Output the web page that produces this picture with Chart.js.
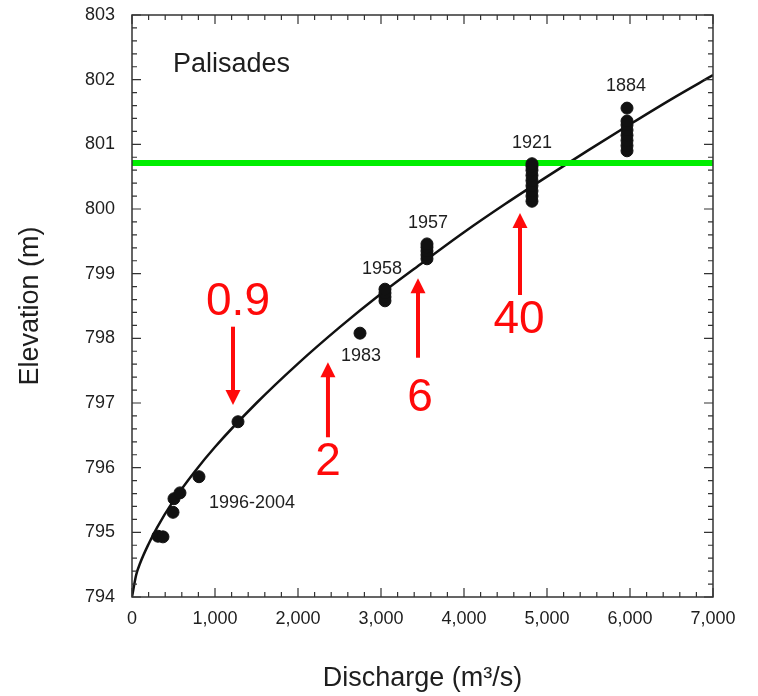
<!DOCTYPE html>
<html>
<head>
<meta charset="utf-8">
<title>Palisades rating curve</title>
<script src="https://cdn.jsdelivr.net/npm/chart.js@4.4.1/dist/chart.umd.min.js"></script>
<style>
  html, body { margin: 0; padding: 0; background: #fff; }
  #wrap { width: 758px; height: 696px; }
</style>
</head>
<body>
<div id="wrap"><canvas id="c" width="758" height="696"></canvas></div>
<script>
// Stage–discharge rating curve (discharge m³/s, elevation m)
const curveDischarge = [0, 50, 100, 200, 300, 500, 750, 1000, 1500, 2000, 2500, 3000, 3500, 4000, 4500, 5000, 5500, 6000, 6500, 7000];
const curveElevation = [794.0, 794.34, 794.53, 794.82, 795.07, 795.49, 795.93, 796.32, 797.00, 797.61, 798.17, 798.69, 799.17, 799.64, 800.08, 800.50, 800.91, 801.31, 801.70, 802.07];

// Observed high-water marks, grouped by flood
const floodLabels = ['1996-2004', '1983', '1958', '1957', '1921', '1884'];
const obsDischarge1996 = [313, 373, 494, 506, 578, 807, 1277];
const obsElevation1996 = [794.94, 794.93, 795.31, 795.52, 795.61, 795.86, 796.71];
const obsDischarge1983 = [2747];
const obsElevation1983 = [798.08];
const obsDischarge1958 = [3048, 3048, 3048, 3048];
const obsElevation1958 = [798.58, 798.64, 798.70, 798.76];
const obsDischarge1957 = [3554, 3554, 3554, 3554, 3554];
const obsElevation1957 = [799.23, 799.29, 799.35, 799.41, 799.46];
const obsDischarge1921 = [4819, 4819, 4819, 4819, 4819, 4819, 4819, 4819, 4819];
const obsElevation1921 = [800.12, 800.20, 800.28, 800.36, 800.44, 800.52, 800.60, 800.66, 800.70];
const obsDischarge1884 = [5964, 5964, 5964, 5964, 5964, 5964, 5964, 5964];
const obsElevation1884 = [800.90, 800.98, 801.06, 801.14, 801.22, 801.30, 801.36, 801.56];

// Reference level (green line)
const levelDischarge = [0, 7000];
const levelElevation = [800.71, 800.71];

// Red callouts: label and the discharge each arrow marks
const calloutLabels = ['0.9', '2', '6', '40'];
const calloutDischarge = [1217, 2361, 3446, 4675];

// Axis ticks
const xTickValues = [0, 1000, 2000, 3000, 4000, 5000, 6000, 7000];
const yTickValues = [794, 795, 796, 797, 798, 799, 800, 801, 802, 803];

const toPoints = (xs, ys) => xs.map((v, i) => ({ x: v, y: ys[i] }));

const observed = [].concat(
  toPoints(obsDischarge1996, obsElevation1996),
  toPoints(obsDischarge1983, obsElevation1983),
  toPoints(obsDischarge1958, obsElevation1958),
  toPoints(obsDischarge1957, obsElevation1957),
  toPoints(obsDischarge1921, obsElevation1921),
  toPoints(obsDischarge1884, obsElevation1884)
);

const FONT = "'Liberation Sans', Helvetica, Arial, sans-serif";
const INK = '#1e1e1e';

// Where each flood's year label sits (data coordinates)
const floodLabelAt = {
  '1996-2004': [1446, 795.45],
  '1983': [2759, 797.73],
  '1958': [3012, 799.07],
  '1957': [3566, 799.78],
  '1921': [4819, 801.02],
  '1884': [5952, 801.90]
};
// Callout geometry: arrow base, arrow tip and number centre elevations
const calloutGeom = {
  '0.9': { from: 798.18, to: 796.97, textX: 1277, textY: 798.55 },
  '2':   { from: 796.47, to: 797.63, textX: 2361, textY: 796.09 },
  '6':   { from: 797.70, to: 798.93, textX: 3470, textY: 797.08 },
  '40':  { from: 798.67, to: 799.94, textX: 4663, textY: 798.28 }
};

const framePlugin = {
  id: 'frame',
  afterDraw(chart) {
    const { ctx, chartArea: a, scales: { x, y } } = chart;
    ctx.save();
    ctx.strokeStyle = '#333';
    ctx.lineWidth = 1.5;
    ctx.strokeRect(a.left, a.top, a.right - a.left, a.bottom - a.top);
    ctx.lineWidth = 1.2;
    ctx.beginPath();
    for (let v = 0; v <= 7000; v += 200) {
      const px = x.getPixelForValue(v);
      const len = xTickValues.includes(v) ? 9 : 5;
      ctx.moveTo(px, a.bottom); ctx.lineTo(px, a.bottom - len);
      ctx.moveTo(px, a.top); ctx.lineTo(px, a.top + len);
    }
    for (let k = 0; k <= 45; k++) {
      const v = 794 + k * 0.2;
      const py = y.getPixelForValue(v);
      const len = k % 5 === 0 ? 9 : 5;
      ctx.moveTo(a.left, py); ctx.lineTo(a.left + len, py);
      ctx.moveTo(a.right, py); ctx.lineTo(a.right - len, py);
    }
    ctx.stroke();
    ctx.restore();
  }
};

const labelPlugin = {
  id: 'labels',
  afterDatasetsDraw(chart) {
    const { ctx, scales: { x, y } } = chart;
    ctx.save();
    // site name
    ctx.fillStyle = INK;
    ctx.font = `27px ${FONT}`;
    ctx.textAlign = 'left';
    ctx.textBaseline = 'middle';
    ctx.fillText('Palisades', x.getPixelForValue(494), y.getPixelForValue(802.23));

    // flood year labels
    ctx.font = `18px ${FONT}`;
    ctx.textAlign = 'center';
    floodLabels.forEach(lbl => {
      const [q, e] = floodLabelAt[lbl];
      ctx.fillText(lbl, x.getPixelForValue(q), y.getPixelForValue(e));
    });

    // red arrows with numbers
    ctx.fillStyle = '#ff0a0a';
    ctx.strokeStyle = '#ff0a0a';
    ctx.lineWidth = 4;
    calloutLabels.forEach((lbl, i) => {
      const g = calloutGeom[lbl];
      const px = x.getPixelForValue(calloutDischarge[i]);
      const y0 = y.getPixelForValue(g.from);
      const y1 = y.getPixelForValue(g.to);
      const dir = y1 > y0 ? 1 : -1;
      const headLen = 15, headHalf = 7.5;
      ctx.beginPath();
      ctx.moveTo(px, y0);
      ctx.lineTo(px, y1 - dir * headLen + dir * 1);
      ctx.stroke();
      ctx.beginPath();
      ctx.moveTo(px, y1);
      ctx.lineTo(px - headHalf, y1 - dir * headLen);
      ctx.lineTo(px + headHalf, y1 - dir * headLen);
      ctx.closePath();
      ctx.fill();
      ctx.font = `46px ${FONT}`;
      ctx.textAlign = 'center';
      ctx.textBaseline = 'middle';
      ctx.fillText(lbl, x.getPixelForValue(g.textX), y.getPixelForValue(g.textY));
    });
    ctx.restore();
  }
};

new Chart(document.getElementById('c'), {
  data: {
    datasets: [
      {
        type: 'scatter',
        label: 'High-water marks',
        data: observed,
        backgroundColor: '#111',
        borderColor: '#111',
        pointRadius: 6,
        pointHoverRadius: 6,
        order: 0
      },
      {
        type: 'line',
        label: 'Reference level',
        data: toPoints(levelDischarge, levelElevation),
        borderColor: '#00ee00',
        borderWidth: 6,
        pointRadius: 0,
        order: 1
      },
      {
        type: 'line',
        label: 'Rating curve',
        data: toPoints(curveDischarge, curveElevation),
        borderColor: '#111',
        borderWidth: 2.5,
        pointRadius: 0,
        cubicInterpolationMode: 'monotone',
        order: 2
      }
    ]
  },
  options: {
    responsive: false,
    animation: false,
    events: [],
    layout: { padding: { top: 15, right: 45, bottom: 0, left: 0 } },
    plugins: { legend: { display: false }, tooltip: { enabled: false } },
    scales: {
      x: {
        type: 'linear',
        min: 0, max: 7000,
        afterBuildTicks(s) { s.ticks = xTickValues.map(v => ({ value: v })); },
        afterFit(s) { s.height = 99; },
        grid: { display: false },
        border: { display: false },
        ticks: {
          color: INK, padding: 3, maxRotation: 0,
          font: { family: FONT, size: 18 },
          callback: v => v.toLocaleString('en-US')
        },
        title: {
          display: true, text: 'Discharge (m³/s)', color: INK,
          font: { family: FONT, size: 27 }, padding: { top: 0, bottom: 1 }
        }
      },
      y: {
        type: 'linear',
        min: 794, max: 803,
        afterBuildTicks(s) { s.ticks = yTickValues.map(v => ({ value: v })); },
        afterFit(s) { s.width = 132; s.paddingTop = 0; s.paddingBottom = 0; },
        grid: { display: false },
        border: { display: false },
        ticks: {
          color: INK, padding: 9,
          font: { family: FONT, size: 18 }
        },
        title: {
          display: true, text: 'Elevation (m)', color: INK,
          font: { family: FONT, size: 27 }, padding: { top: 14, bottom: 0 }
        }
      }
    }
  },
  plugins: [framePlugin, labelPlugin]
});
</script>
</body>
</html>
